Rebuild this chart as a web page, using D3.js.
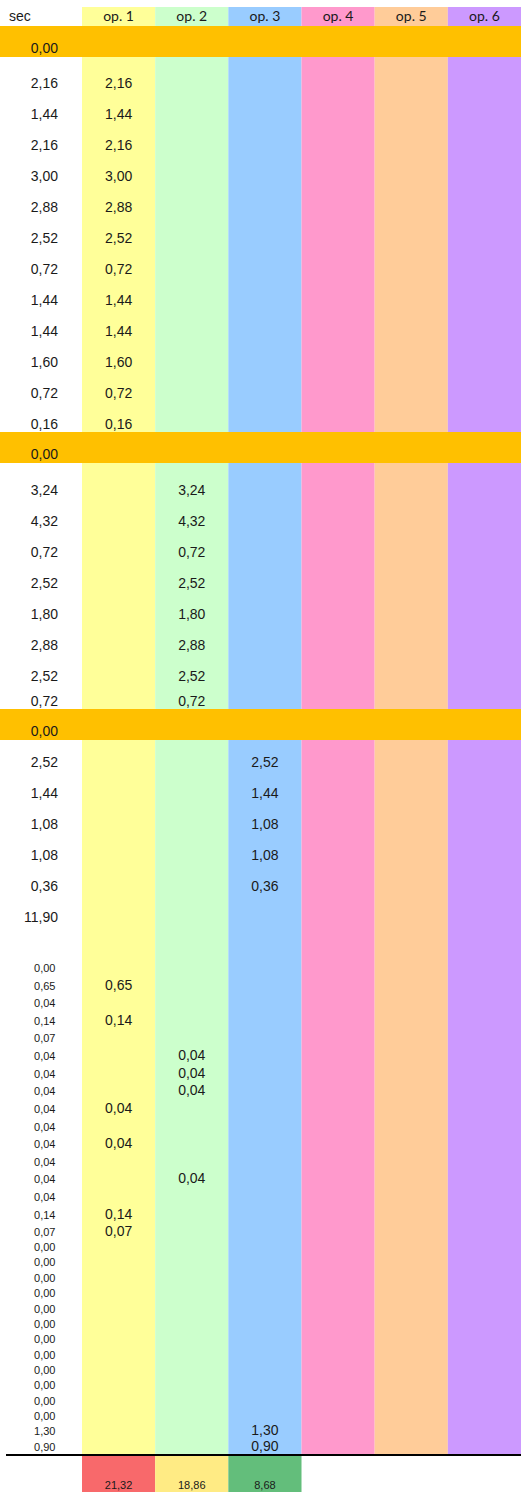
<!DOCTYPE html>
<html>
<head>
<meta charset="utf-8">
<script src="https://cdn.jsdelivr.net/npm/d3@7"></script>
<style>
  html, body { margin: 0; padding: 0; background: #fff; }
  svg { display: block; }
</style>
</head>
<body>
<svg id="sheet"></svg>
<script>
// ---- data ----
const operators = ["op. 1", "op. 2", "op. 3", "op. 4", "op. 5", "op. 6"];
const operatorColors = ["#ffff99", "#ccffcc", "#99ccff", "#ff99cc", "#ffcc99", "#cc99ff"];

// separator rows (orange) – each shows its own seconds value
const bandSec = [0.00, 0.00, 0.00];

// block 1: all on op. 1
const block1Sec = [2.16, 1.44, 2.16, 3.00, 2.88, 2.52, 0.72, 1.44, 1.44, 1.60, 0.72, 0.16];
const block1Op  = [0, 0, 0, 0, 0, 0, 0, 0, 0, 0, 0, 0];

// block 2: all on op. 2
const block2Sec = [3.24, 4.32, 0.72, 2.52, 1.80, 2.88, 2.52, 0.72];
const block2Op  = [1, 1, 1, 1, 1, 1, 1, 1];

// block 3: op. 3, then a subtotal-like row with no operator
const block3Sec = [2.52, 1.44, 1.08, 1.08, 0.36, 11.90];
const block3Op  = [2, 2, 2, 2, 2, null];

// fine-grained block
const smallSec = [0.00, 0.65, 0.04, 0.14, 0.07, 0.04, 0.04, 0.04, 0.04, 0.04,
                  0.04, 0.04, 0.04, 0.04, 0.14, 0.07, 0.00, 0.00, 0.00, 0.00,
                  0.00, 0.00, 0.00, 0.00, 0.00, 0.00, 0.00, 0.00, 1.30, 0.90];
const smallOp  = [null, 0, null, 0, null, 1, 1, 1, 0, null,
                  0, null, 1, null, 0, 0, null, null, null, null,
                  null, null, null, null, null, null, null, null, 2, 2];

// per-operator totals
const totals = [21.32, 18.86, 8.68];
const totalColors = ["#f8696b", "#ffeb84", "#63be7b"];

// ---- layout ----
const W = 521, H = 1492;
const textColor = "#1a1a1a";
const fmt = d3.formatLocale({ decimal: ",", thousands: ".", grouping: [3], currency: ["", ""] }).format(".2f");

const svg = d3.select("#sheet").attr("width", W).attr("height", H);

const x = d3.scaleBand().domain(operators).range([82, W]);
const colorOf = d3.scaleOrdinal().domain(operators).range(operatorColors);

const headerTop = 7;
const columnBottom = 1454;
const bands = [
  { top: 26,  bottom: 57 },
  { top: 432, bottom: 463 },
  { top: 709, bottom: 740 }
];

// column fills (header through the last row)
svg.append("g").selectAll("rect")
  .data(operators)
  .join("rect")
  .attr("x", d => x(d))
  .attr("y", headerTop)
  .attr("width", x.bandwidth())
  .attr("height", columnBottom - headerTop)
  .attr("fill", d => colorOf(d));

// orange separator rows
const bandG = svg.append("g");
bandG.selectAll("rect")
  .data(bands)
  .join("rect")
  .attr("x", 0)
  .attr("y", d => d.top)
  .attr("width", W)
  .attr("height", d => d.bottom - d.top)
  .attr("fill", "#ffc000");
bandG.selectAll("text")
  .data(bandSec)
  .join("text")
  .attr("x", 58)
  .attr("y", (d, i) => bands[i].bottom - 4)
  .attr("text-anchor", "end")
  .attr("font-family", "Liberation Sans, Arial, sans-serif")
  .attr("font-size", 14)
  .attr("fill", textColor)
  .text(d => fmt(d));

// header
const head = svg.append("g");
head.append("text")
  .attr("x", 9).attr("y", 21)
  .attr("font-family", "Liberation Sans, Arial, sans-serif")
  .attr("font-size", 14)
  .attr("fill", textColor)
  .text("sec");
head.selectAll("text.op")
  .data(operators)
  .join("text")
  .attr("class", "op")
  .attr("x", d => x(d) + x.bandwidth() / 2)
  .attr("y", 21)
  .attr("text-anchor", "middle")
  .attr("font-family", "Lato, sans-serif")
  .attr("font-size", 14)
  .attr("fill", textColor)
  .text(d => d);

// a block of rows: seconds on the left, same value repeated in its operator column
function drawBlock(secs, ops, yOf, labelSize, labelRight) {
  const rows = secs.map((s, i) => ({ s, op: ops[i], y: yOf(i) }));
  const g = svg.append("g");
  g.selectAll("text.sec")
    .data(rows)
    .join("text")
    .attr("class", "sec")
    .attr("x", labelRight)
    .attr("y", d => d.y)
    .attr("text-anchor", "end")
    .attr("font-family", "Liberation Sans, Arial, sans-serif")
    .attr("font-size", labelSize)
    .attr("fill", textColor)
    .text(d => fmt(d.s));
  g.selectAll("text.val")
    .data(rows.filter(d => d.op !== null))
    .join("text")
    .attr("class", "val")
    .attr("x", d => x(operators[d.op]) + x.bandwidth() / 2)
    .attr("y", d => d.y)
    .attr("text-anchor", "middle")
    .attr("font-family", "Liberation Sans, Arial, sans-serif")
    .attr("font-size", 14)
    .attr("fill", textColor)
    .text(d => fmt(d.s));
}

const rowStep = 31;
const rowY = (first, limit) => i => Math.min(first + rowStep * i, limit);

drawBlock(block1Sec, block1Op, rowY(88, bands[1].top - 3), 14, 58);
drawBlock(block2Sec, block2Op, rowY(495, bands[2].top - 3), 14, 58);
drawBlock(block3Sec, block3Op, rowY(767, 2000), 14, 58);

// fine block: taller rows first, then tighter ones
const smallY = i => i <= 14 ? 972 + 17.62 * i : 1235.7 + 15.36 * (i - 15);
drawBlock(smallSec, smallOp, smallY, 11, 55.5);

// totals rule and cells
svg.append("line")
  .attr("x1", 6).attr("x2", W)
  .attr("y1", 1455).attr("y2", 1455)
  .attr("stroke", "#000")
  .attr("stroke-width", 2);

const totG = svg.append("g");
totG.selectAll("rect")
  .data(totals)
  .join("rect")
  .attr("x", (d, i) => x(operators[i]))
  .attr("y", 1456)
  .attr("width", x.bandwidth())
  .attr("height", H - 1456)
  .attr("fill", (d, i) => totalColors[i]);
totG.selectAll("text")
  .data(totals)
  .join("text")
  .attr("x", (d, i) => x(operators[i]) + x.bandwidth() / 2)
  .attr("y", 1489)
  .attr("text-anchor", "middle")
  .attr("font-family", "Liberation Sans, Arial, sans-serif")
  .attr("font-size", 11)
  .attr("fill", textColor)
  .text(d => fmt(d));
</script>
</body>
</html>
